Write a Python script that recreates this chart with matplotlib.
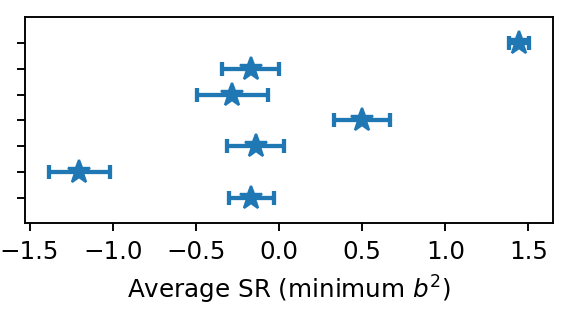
import numpy as np
import matplotlib
matplotlib.use("Agg")
import matplotlib.pyplot as plt

# rows listed bottom to top
sr_mean = [-0.168, -1.200, -0.140, 0.499, -0.280, -0.170, 1.445]
sr_err = [0.135, 0.183, 0.170, 0.170, 0.213, 0.170, 0.060]
rows = np.arange(len(sr_mean))

DPI = 171
fig = plt.figure(figsize=(571 / DPI, 326 / DPI), dpi=DPI)
ax = fig.add_axes([25 / 571, (326 - 223.3) / 326, (553.3 - 25) / 571, (223.3 - 17.3) / 326])

ax.errorbar(sr_mean, rows, xerr=sr_err, fmt='*', color='tab:blue',
            ms=10, elinewidth=1.8, capsize=3, capthick=1.8)

ax.set_ylim(-1, len(sr_mean))
ax.set_yticks(rows)
ax.set_yticklabels([])
ax.tick_params(labelsize=10.3)
ax.set_xlabel("Average SR (minimum $b^2$)", fontsize=10.4)

fig.savefig("out.png", dpi=DPI)
